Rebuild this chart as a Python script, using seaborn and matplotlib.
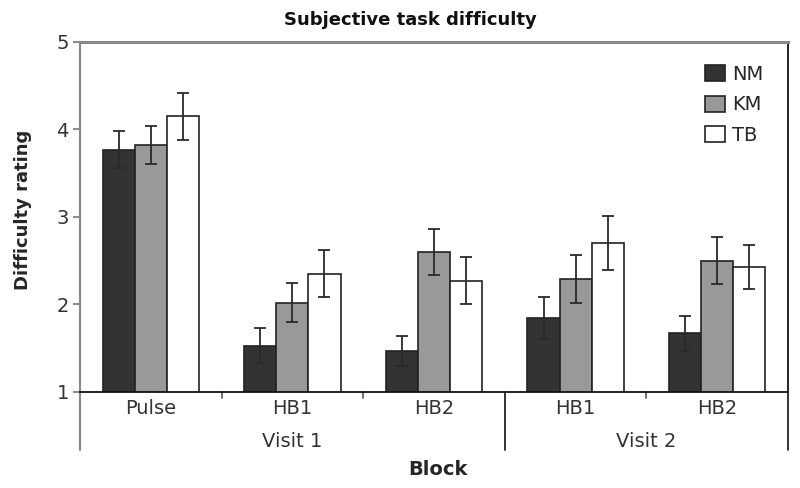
import pandas as pd
import numpy as np
import matplotlib.pyplot as plt
import seaborn as sns

blocks = ["Pulse", "HB1", "HB2", "HB1 ", "HB2 "]
tick_labels = ["Pulse", "HB1", "HB2", "HB1", "HB2"]
visits = ["Visit 1", "Visit 2"]
groups = ["NM", "KM", "TB"]

nm = [3.77, 1.53, 1.47, 1.85, 1.67]
km = [3.82, 2.02, 2.60, 2.29, 2.50]
tb = [4.15, 2.35, 2.27, 2.70, 2.43]
nm_err = [0.21, 0.20, 0.17, 0.24, 0.20]
km_err = [0.22, 0.22, 0.26, 0.27, 0.27]
tb_err = [0.27, 0.27, 0.27, 0.31, 0.25]

df = pd.DataFrame({
    "block": blocks * 3,
    "group": np.repeat(groups, len(blocks)),
    "rating": nm + km + tb,
    "err": nm_err + km_err + tb_err,
})

sns.set_style("white")
plt.rcParams["font.family"] = ["DejaVu Sans"]

fig = plt.figure(figsize=(8, 4.88), dpi=100)
ax = fig.add_axes([0.1, 0.197, 0.885, 0.717])

palette = {"NM": "#333333", "KM": "#999999", "TB": "#ffffff"}
sns.barplot(data=df, x="block", y="rating", hue="group", order=blocks,
            hue_order=groups, palette=palette, errorbar=None, width=0.68,
            edgecolor="#222222", linewidth=1.2, saturation=1, ax=ax)

# error bars at the bar centres
for cont, g in zip(ax.containers, groups):
    sub = df[df["group"] == g].set_index("block").loc[blocks]
    xs = [p.get_x() + p.get_width() / 2 for p in cont.patches]
    ax.errorbar(xs, sub["rating"], yerr=sub["err"], fmt="none",
                ecolor="#2a2a2a", elinewidth=1.3, capsize=4.5, capthick=1.3)

ax.set_ylim(1, 5)
ax.set_xlim(-0.5, 4.5)
ax.set_yticks([1, 2, 3, 4, 5])
ax.set_xticks(range(5))
ax.set_xticklabels(tick_labels)
ax.tick_params(axis="x", length=0, labelsize=14, colors="#333333", pad=5)
ax.tick_params(axis="y", left=True, length=5, width=1.2, color="#777777",
               labelsize=14, labelcolor="#333333", pad=3)

for side in ["left", "top"]:
    ax.spines[side].set_color("#888888")
ax.spines["left"].set_linewidth(1.5)
ax.spines["top"].set_linewidth(2.2)
ax.spines["right"].set_color("#111111")
ax.spines["right"].set_linewidth(1.3)
ax.spines["bottom"].set_color("#111111")
ax.spines["bottom"].set_linewidth(1.3)

# group separators under the axis
trans = ax.get_xaxis_transform()
ax.plot([-0.5, -0.5], [0, -0.166], transform=trans, color="#888888", lw=1.5, clip_on=False)
for xb in [2.5, 4.5]:
    ax.plot([xb, xb], [0, -0.166], transform=trans, color="#111111", lw=1.2, clip_on=False)
for xb in [0.5, 1.5, 3.5]:
    ax.plot([xb, xb], [0, -0.018], transform=trans, color="#555555", lw=1.2, clip_on=False)

ax.text(1, -0.143, visits[0], transform=trans, ha="center", va="center",
        fontsize=14, color="#333333")
ax.text(3.5, -0.143, visits[1], transform=trans, ha="center", va="center",
        fontsize=14, color="#333333")

ax.set_xlabel("Block", fontsize=14, fontweight="bold")
ax.xaxis.set_label_coords(0.505, -0.195)
ax.set_ylabel("Difficulty rating", fontsize=13, fontweight="bold")
ax.yaxis.set_label_coords(-0.068, 0.52)
fig.text(0.5125, 0.958, "Subjective task difficulty", fontsize=13,
         fontweight="bold", ha="center", va="center", color="#111111")

ax.legend(loc="upper left", bbox_to_anchor=(0.883, 0.935), frameon=False,
          fontsize=14, handlelength=1.0, handleheight=0.9, labelspacing=0.6,
          handletextpad=0.4, borderpad=0, borderaxespad=0, title=None)

fig.savefig("out.png", dpi=100)
